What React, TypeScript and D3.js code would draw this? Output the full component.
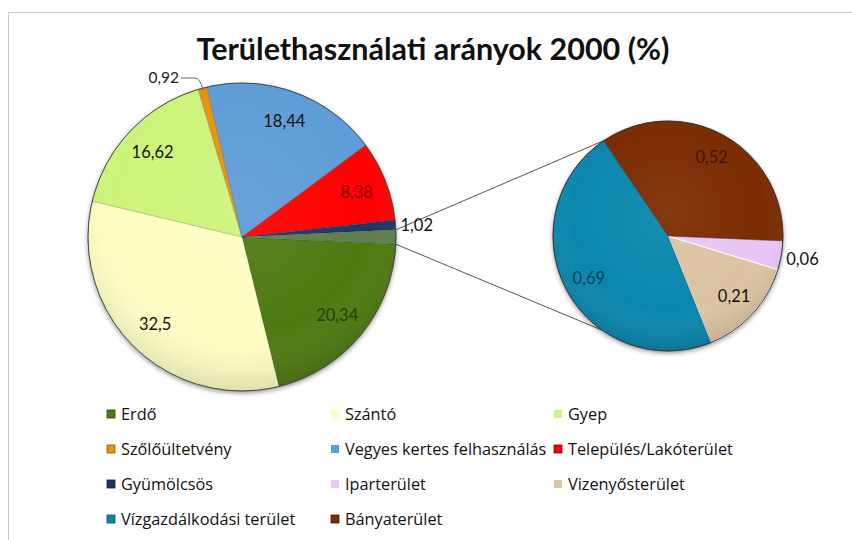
import React from "react";
import * as d3 from "d3";

const title = "Területhasználati arányok 2000 (%)";
const categories = [
  "Erdő",
  "Szántó",
  "Gyep",
  "Szőlőültetvény",
  "Vegyes kertes felhasználás",
  "Település/Lakóterület",
  "Gyümölcsös",
  "Iparterület",
  "Vizenyősterület",
  "Vízgazdálkodási terület",
  "Bányaterület",
];
const values = [20.34, 32.5, 16.62, 0.92, 18.44, 8.38, 1.02, 0.06, 0.21, 0.69, 0.52];
const labels = ["20,34", "32,5", "16,62", "0,92", "18,44", "8,38", "1,02", "0,06", "0,21", "0,69", "0,52"];
const colors = [
  "#4e7a12",
  "#fefec4",
  "#cdf47a",
  "#e5960f",
  "#5f9dd8",
  "#ff0000",
  "#1f3566",
  "#e8c6f6",
  "#dcc4a3",
  "#0a86ad",
  "#7b2c02",
];
const otherColor = "#5f7d4c";
const primaryCount = 7;

const W = 852;
const H = 540;
const c1 = { x: 242, y: 237 };
const R1 = 154;
const c2 = { x: 668, y: 236 };
const R2 = 115;
const deg = Math.PI / 180;

type Item = { name: string; value: number; label: string; color: string; idx: number };

function labelColor(c: string) {
  const hsl = d3.hsl(c);
  if (hsl.l > 0.6) return "#111";
  return d3.rgb(c).darker(1.9).formatHex();
}

export default function App() {
  const items: Item[] = categories.map((name, i) => ({
    name,
    value: values[i],
    label: labels[i],
    color: colors[i],
    idx: i,
  }));
  const primary = items.slice(0, primaryCount);
  const secondary = items.slice(primaryCount);
  const otherValue = d3.sum(secondary, (d) => d.value);
  const total = d3.sum(items, (d) => d.value);
  const otherAngle = (2 * Math.PI * otherValue) / total;

  const pData: Item[] = [
    ...primary,
    { name: "other", value: otherValue, label: "", color: otherColor, idx: -1 },
  ];
  const start1 = Math.PI / 2 + otherAngle / 2;
  const pie1 = d3
    .pie<Item>()
    .sort(null)
    .value((d) => d.value)
    .startAngle(start1)
    .endAngle(start1 + 2 * Math.PI)(pData);

  const start2 = 92.4 * deg;
  const pie2 = d3
    .pie<Item>()
    .sort(null)
    .value((d) => d.value)
    .startAngle(start2)
    .endAngle(start2 + 2 * Math.PI)(secondary);

  const arc1 = d3.arc<d3.PieArcDatum<Item>>().innerRadius(0).outerRadius(R1);
  const arc2 = d3.arc<d3.PieArcDatum<Item>>().innerRadius(0).outerRadius(R2);

  const polar = (c: { x: number; y: number }, r: number, a: number) => ({
    x: c.x + r * Math.sin(a),
    y: c.y - r * Math.cos(a),
  });

  const otherSlice = pie1[pie1.length - 1];
  const pA = polar(c1, R1, otherSlice.startAngle);
  const pB = polar(c1, R1, otherSlice.endAngle);
  const qA = polar(c2, R2, 215 * deg);
  const qB = polar(c2, R2, 326 * deg);

  const outsideSet = new Set(["0,92", "1,02", "0,06"]);

  const legendCols = [107, 331, 554];
  const legendRows = [414, 449, 484, 519];

  const font = "Lato, 'Open Sans', sans-serif";
  const legendFont = "'Open Sans', Lato, sans-serif";

  return (
    <svg
      width={W}
      height={H}
      style={{ position: "absolute", left: 0, top: 0, display: "block", background: "#fff" }}
      fontFamily={font}
    >
      <defs>
        <filter id="shadow" x="-20%" y="-20%" width="140%" height="140%">
          <feDropShadow dx="0" dy="2" stdDeviation="2.5" floodColor="#000" floodOpacity="0.45" />
        </filter>
        <radialGradient id="shade" cx="50%" cy="40%" r="60%">
          <stop offset="0%" stopColor="#fff" stopOpacity="0.06" />
          <stop offset="70%" stopColor="#fff" stopOpacity="0" />
          <stop offset="100%" stopColor="#000" stopOpacity="0.12" />
        </radialGradient>
      </defs>
      <rect x={8.5} y={12.5} width={W} height={H} fill="#fff" stroke="#c8c8c8" strokeWidth={1} />

      <text x={433} y={60} textAnchor="middle" fontSize={30.5} fontWeight={700} fill="#111">
        {title}
      </text>

      {/* connector lines */}
      <line x1={pB.x} y1={pB.y} x2={qA.x} y2={qA.y} stroke="#555" strokeWidth={1} />
      <line x1={pA.x} y1={pA.y} x2={qB.x} y2={qB.y} stroke="#555" strokeWidth={1} />

      {/* primary pie */}
      <g transform={`translate(${c1.x},${c1.y})`}>
        <circle r={R1} fill="#fff" filter="url(#shadow)" />
        {pie1.map((d, i) => (
          <path key={i} d={arc1(d) || ""} fill={d.data.color} stroke="rgba(0,0,0,0.25)" strokeWidth={0.6} />
        ))}
        <circle r={R1} fill="url(#shade)" stroke="#4a4a4a" strokeWidth={1} />
      </g>

      {/* secondary pie */}
      <g transform={`translate(${c2.x},${c2.y})`}>
        <circle r={R2} fill="#fff" filter="url(#shadow)" />
        {pie2.map((d, i) => (
          <path
            key={i}
            d={arc2(d) || ""}
            fill={d.data.color}
            stroke={d.data.name === "Vizenyősterület" ? "#fff" : "rgba(0,0,0,0.35)"}
            strokeWidth={d.data.name === "Vizenyősterület" ? 1.2 : 0.7}
          />
        ))}
        <circle r={R2} fill="url(#shade)" stroke="#3a3a3a" strokeWidth={1} />
      </g>

      {/* primary labels */}
      {pie1
        .filter((d) => d.data.idx >= 0)
        .map((d, i) => {
          const mid = (d.startAngle + d.endAngle) / 2;
          if (d.data.label === "0,92") {
            const edge = polar(c1, R1 - 2, mid);
            const tx = 179;
            const ty = 78;
            return (
              <g key={i}>
                <path
                  d={`M${tx + 2},${ty} L${edge.x - 8},${ty} Q${edge.x - 3},${ty} ${edge.x},${edge.y}`}
                  fill="none"
                  stroke="#666"
                  strokeWidth={1}
                />
                <text x={tx} y={ty} dy="0.35em" textAnchor="end" fontSize={15.5} fill="#222">
                  {d.data.label}
                </text>
              </g>
            );
          }
          if (outsideSet.has(d.data.label)) {
            const p = polar(c1, R1 + 5, mid);
            return (
              <text key={i} x={p.x} y={p.y + 1} dy="0.35em" textAnchor="start" fontSize={16.5} fill="#111">
                {d.data.label}
              </text>
            );
          }
          const p = polar(c1, R1 * 0.8, mid);
          return (
            <text key={i} x={p.x} y={p.y} dy="0.35em" textAnchor="middle" fontSize={16.5} fill={labelColor(d.data.color)}>
              {d.data.label}
            </text>
          );
        })}

      {/* secondary labels */}
      {pie2.map((d, i) => {
        const mid = (d.startAngle + d.endAngle) / 2;
        if (outsideSet.has(d.data.label)) {
          const p = polar(c2, R2 + 5, mid);
          return (
            <text key={i} x={p.x} y={p.y + 3} dy="0.35em" textAnchor="start" fontSize={16.5} fill="#111">
              {d.data.label}
            </text>
          );
        }
        const p = polar(c2, R2 * 0.78, mid);
        return (
          <text key={i} x={p.x} y={p.y} dy="0.35em" textAnchor="middle" fontSize={16.5} fill={labelColor(d.data.color)}>
            {d.data.label}
          </text>
        );
      })}

      {/* legend */}
      {items.map((d, i) => {
        const col = i % 3;
        const row = Math.floor(i / 3);
        const x = legendCols[col];
        const y = legendRows[row];
        return (
          <g key={i}>
            <rect
              x={x}
              y={y - 4}
              width={8}
              height={8}
              fill={d.color}
              stroke={d3.hsl(d.color).l > 0.6 ? "none" : d3.rgb(d.color).darker(1.5).formatHex()}
              strokeWidth={0.8}
            />
            <text x={x + 14} y={y} dy="0.35em" fontSize={16.3} fontFamily={legendFont} fill="#111">
              {d.name}
            </text>
          </g>
        );
      })}
    </svg>
  );
}
